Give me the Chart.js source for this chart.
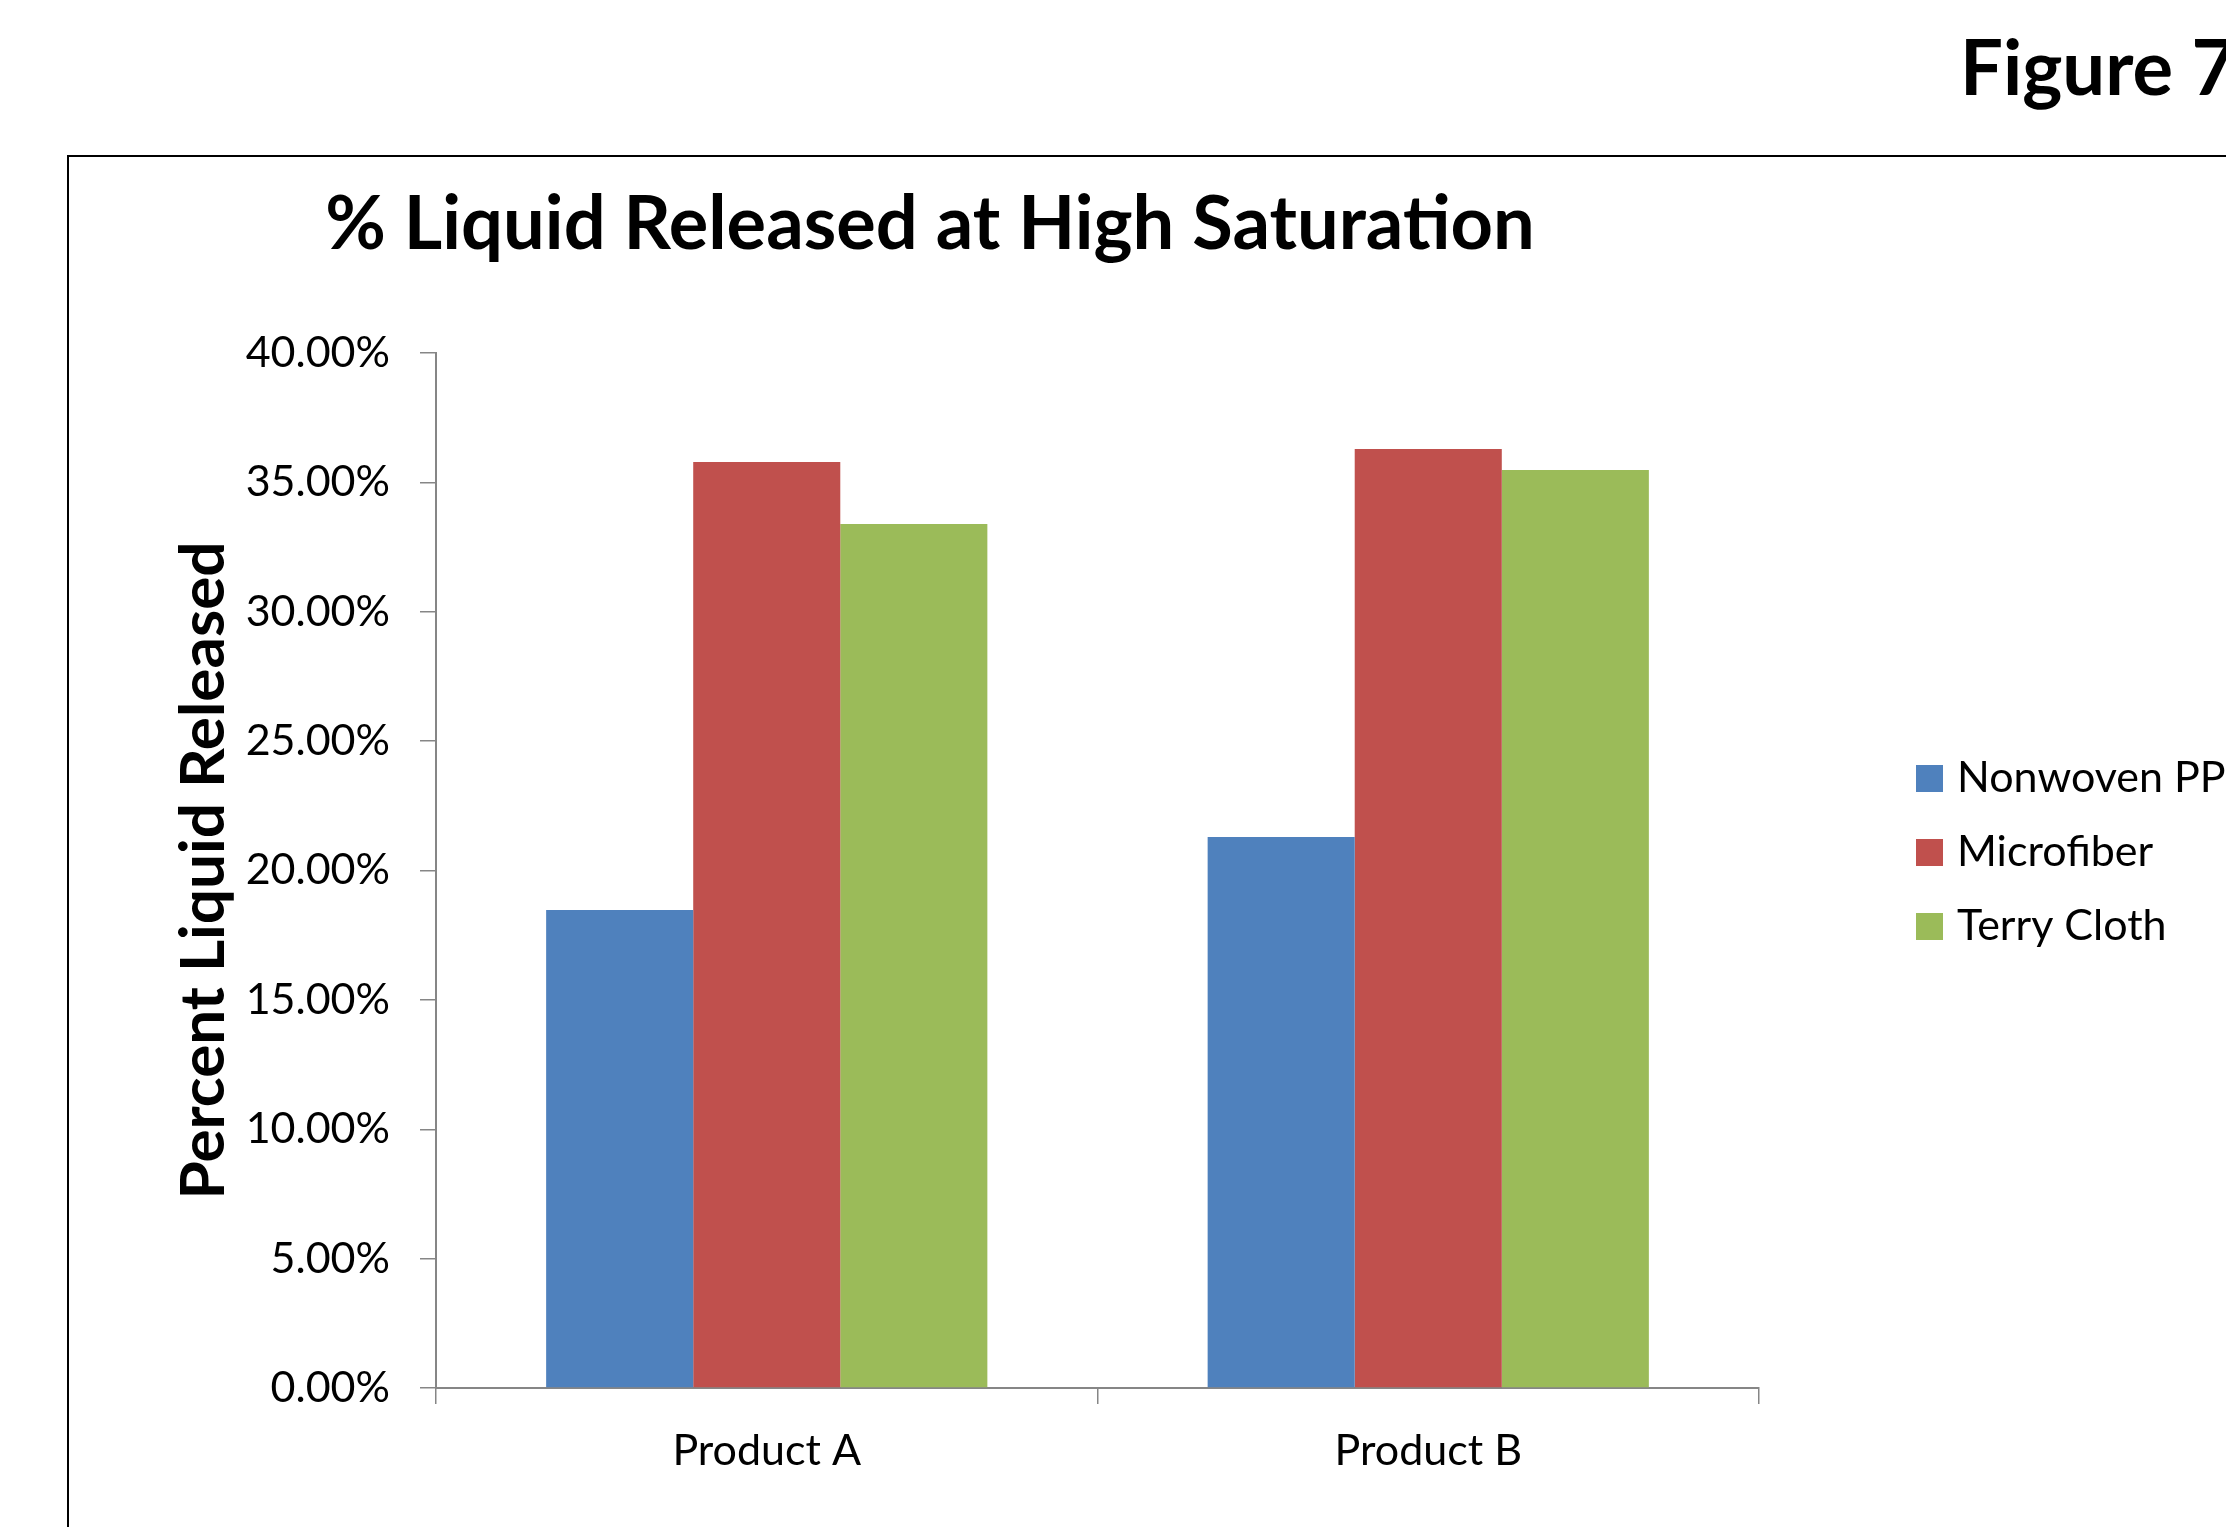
<!DOCTYPE html>
<html>
<head>
<meta charset="utf-8">
<title>% Liquid Released at High Saturation</title>
<script src="https://cdn.jsdelivr.net/npm/chart.js@4.4.0/dist/chart.umd.min.js"></script>
<style>
  html, body { margin: 0; padding: 0; background: #fff; overflow: hidden; }
  body { width: 2226px; height: 1527px; position: relative; }
  #frame {
    position: absolute; left: 67px; top: 155px;
    width: 3000px; height: 3000px;
    border-top: 2px solid #000; border-left: 2px solid #000;
  }
  #chart { position: absolute; left: 0; top: 0; }
</style>
</head>
<body>
<div id="frame"></div>
<canvas id="chart" width="2226" height="1527"></canvas>
<script>
// Chart data
const figureLabel = 'Figure 7';
const chartTitle = '% Liquid Released at High Saturation';
const yAxisTitle = 'Percent Liquid Released';
const products = ['Product A', 'Product B'];
const seriesNames = ['Nonwoven PP', 'Microfiber', 'Terry Cloth'];
const nonwovenPP = [18.47, 21.29];
const microfiber = [35.79, 36.29];
const terryCloth = [33.39, 35.48];
const yTicks = [0, 5, 10, 15, 20, 25, 30, 35, 40];

const seriesColors = ['#4F81BD', '#C0504D', '#9BBB59'];
const axisColor = '#868686';

// Title, figure label and legend are drawn by hand so they sit where the original has them
const decorations = {
    id: 'decorations',
    afterDraw(chart) {
        const ctx = chart.ctx;
        ctx.save();
        ctx.fillStyle = '#000';
        ctx.textBaseline = 'alphabetic';

        ctx.font = 'bold 76px Lato';
        ctx.textAlign = 'left';
        ctx.fillText(figureLabel, 1960, 95);

        ctx.font = 'bold 74px Lato';
        ctx.textAlign = 'center';
        ctx.fillText(chartTitle, 930, 249);

        // legend
        ctx.font = '43px Lato';
        ctx.textAlign = 'left';
        chart.data.datasets.forEach((ds, i) => {
            const y = 792 + i * 74;
            ctx.fillStyle = ds.backgroundColor;
            ctx.fillRect(1916, y - 27, 27, 27);
            ctx.fillStyle = '#000';
            ctx.fillText(ds.label, 1957, y);
        });
        ctx.restore();
    }
};

function initializeChart() {
    const ctx = document.getElementById('chart').getContext('2d');
    window.chart = new Chart(ctx, {
        type: 'bar',
        data: {
            labels: products,
            datasets: [
                { label: seriesNames[0], data: nonwovenPP, backgroundColor: seriesColors[0] },
                { label: seriesNames[1], data: microfiber, backgroundColor: seriesColors[1] },
                { label: seriesNames[2], data: terryCloth, backgroundColor: seriesColors[2] }
            ]
        },
        options: {
            responsive: false,
            animation: false,
            devicePixelRatio: 1,
            categoryPercentage: 0.667,
            barPercentage: 1.0,
            layout: {
                padding: { left: 163, right: 467, top: 353, bottom: 0 }
            },
            plugins: {
                legend: { display: false },
                title: { display: false },
                tooltip: { enabled: false }
            },
            scales: {
                x: {
                    offset: true,
                    grid: {
                        offset: true,
                        drawOnChartArea: false,
                        drawTicks: true,
                        tickLength: 16,
                        color: axisColor,
                        lineWidth: 1.5
                    },
                    border: { display: true, color: axisColor, width: 2 },
                    ticks: {
                        color: '#000',
                        padding: 21,
                        font: { family: 'Lato', size: 43 }
                    },
                    afterFit(scale) { scale.height = 139; }
                },
                y: {
                    min: 0,
                    max: 40,
                    afterBuildTicks(scale) {
                        scale.ticks = yTicks.map(v => ({ value: v }));
                    },
                    grid: {
                        drawOnChartArea: false,
                        drawTicks: true,
                        tickLength: 16,
                        color: axisColor,
                        lineWidth: 1.5
                    },
                    border: { display: true, color: axisColor, width: 2 },
                    ticks: {
                        color: '#000',
                        padding: 30,
                        font: { family: 'Lato', size: 43 },
                        callback: value => value.toFixed(2) + '%'
                    },
                    title: {
                        display: true,
                        text: yAxisTitle,
                        color: '#000',
                        font: { family: 'Lato', size: 62, weight: 'bold' }
                    },
                    afterFit(scale) { scale.width = 273; }
                }
            }
        },
        plugins: [decorations]
    });
}

document.addEventListener('DOMContentLoaded', function() {
    Promise.all([
        document.fonts.load('43px Lato'),
        document.fonts.load('bold 74px Lato')
    ]).catch(() => {}).then(initializeChart);
});
</script>
</body>
</html>
